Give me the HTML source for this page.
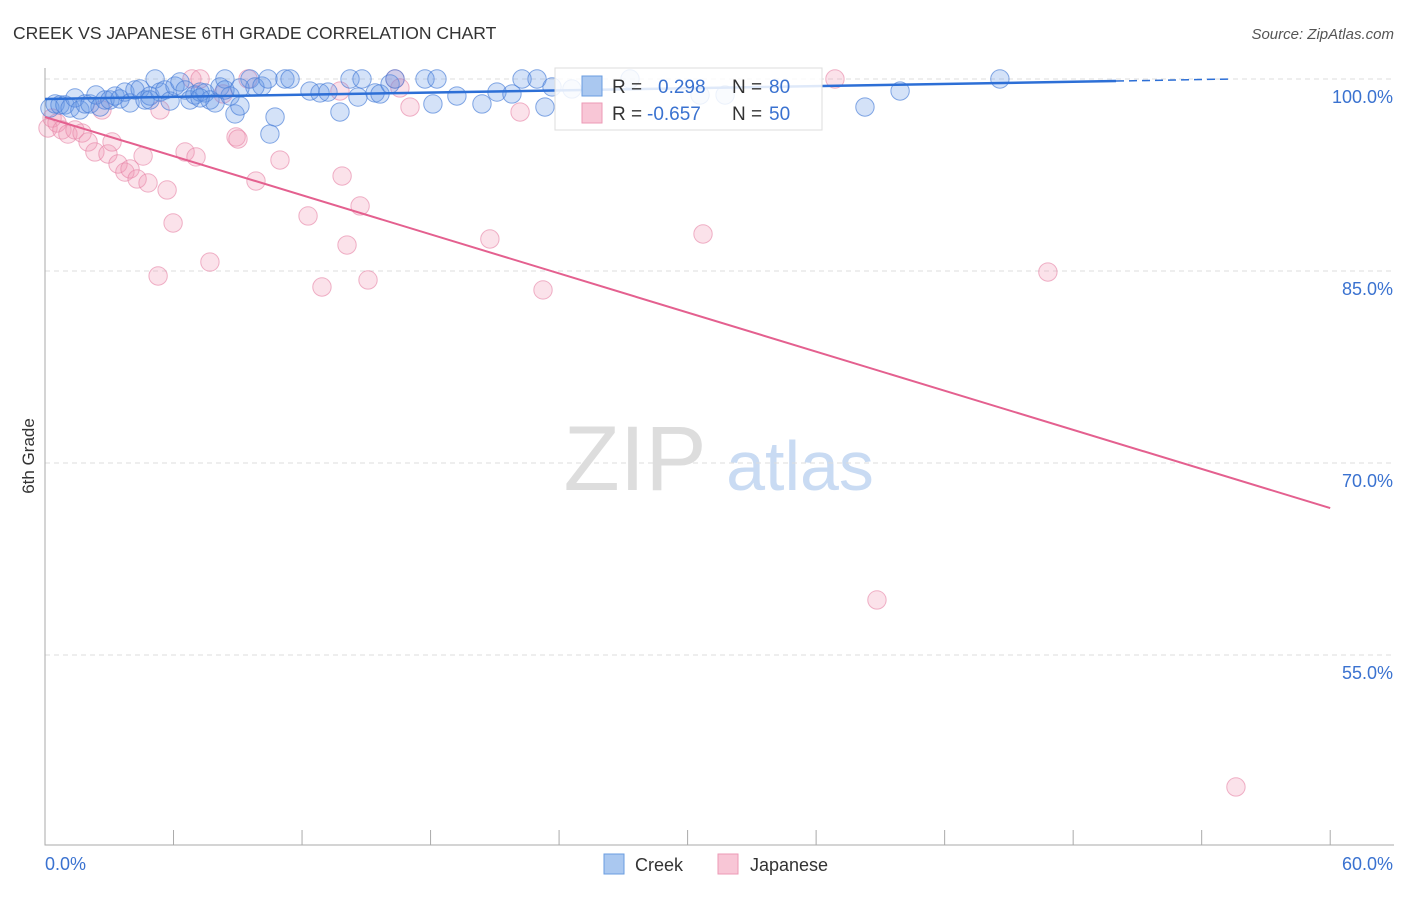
<!DOCTYPE html>
<html><head><meta charset="utf-8"><style>
body{margin:0;background:#fff;font-family:"Liberation Sans",sans-serif;}
svg text{font-family:"Liberation Sans",sans-serif;}
</style></head><body>
<svg id="chart" width="1406" height="892" xmlns="http://www.w3.org/2000/svg">
<text x="13" y="39" font-size="17.5" fill="#333">CREEK VS JAPANESE 6TH GRADE CORRELATION CHART</text>
<text x="1394" y="39" font-size="15" fill="#555" text-anchor="end" font-style="italic">Source: ZipAtlas.com</text>
<text x="34" y="456" font-size="17" fill="#333" transform="rotate(-90 34 456)" text-anchor="middle">6th Grade</text>
<g><text x="635" y="490" font-size="92" fill="#ddd" text-anchor="middle" font-family="Liberation Serif">ZIP</text><text x="800" y="490" font-size="70" fill="#c9dbf3" text-anchor="middle">atlas</text></g>
<g id="grid"></g><g id="marks"></g>
<g>
<rect x="555" y="68" width="267" height="62" fill="#fff" fill-opacity="0.85" stroke="#ddd"/>
<rect x="582" y="76" width="20" height="20" fill="#aac8f0" stroke="#6a9de0"/>
<rect x="582" y="103" width="20" height="20" fill="#f8c6d6" stroke="#ec9ab6"/>
<text x="612" y="93" font-size="19" fill="#333">R =</text><text x="658" y="93" font-size="19" fill="#3a72d0">0.298</text>
<text x="732" y="93" font-size="19" fill="#333">N =</text><text x="769" y="93" font-size="19" fill="#3a72d0">80</text>
<text x="612" y="120" font-size="19" fill="#333">R =</text><text x="647" y="120" font-size="19" fill="#3a72d0">-0.657</text>
<text x="732" y="120" font-size="19" fill="#333">N =</text><text x="769" y="120" font-size="19" fill="#3a72d0">50</text>
</g>
<g>
<rect x="604" y="854" width="20" height="20" fill="#aac8f0" stroke="#6a9de0"/><text x="635" y="871" font-size="18" fill="#333">Creek</text>
<rect x="718" y="854" width="20" height="20" fill="#f8c6d6" stroke="#ec9ab6"/><text x="750" y="871" font-size="18" fill="#333">Japanese</text>
</g>
</svg>
<script>
const xTicks=["0.0%","60.0%"];
const yTicks=[100,85,70,55];
const creekX=[0.23,0.47,0.70,0.93,1.17,1.40,1.63,1.87,2.10,2.38,2.57,2.80,3.03,3.27,3.50,3.73,3.97,4.20,4.44,4.67,4.90,5.14,5.37,5.60,5.84,6.07,6.30,6.54,6.77,7.00,7.24,7.47,7.70,7.94,8.17,8.40,8.64,8.87,9.10,9.57,9.80,10.13,10.41,10.74,10.50,11.20,11.44,12.37,12.84,13.21,13.77,14.24,14.61,14.80,15.41,15.64,16.11,16.34,17.74,18.11,18.30,19.23,20.40,21.10,21.80,22.27,22.97,23.34,23.67,24.60,27.31,30.58,31.75,38.28,39.92,44.58,8.40,4.90,9.10,7.24];
const creekY=[97.73,98.05,97.97,97.97,97.73,98.52,97.58,98.05,98.05,98.75,97.81,98.36,98.36,98.67,98.44,98.98,98.13,99.14,99.22,98.36,98.67,100,98.98,99.14,98.28,99.45,99.77,99.14,98.36,98.75,98.98,98.91,98.36,98.13,99.38,100,98.67,97.27,97.89,100,99.38,99.45,100,97.03,95.70,100,100,99.06,98.91,98.98,97.42,100,98.59,100,98.91,98.83,99.61,100,100,98.05,100,98.67,98.05,98.98,98.83,100,100,97.81,99.38,99.22,100,98.75,98.75,97.81,99.06,100,99.14,98.36,99.30,98.52];
const japX=[0.14,0.33,0.56,0.79,1.07,1.40,1.73,2.01,2.33,2.66,2.94,3.13,3.41,3.73,3.97,4.30,4.58,4.81,5.28,5.37,5.70,5.98,6.54,6.86,7.05,7.24,7.70,8.31,8.92,9.01,9.48,9.85,10.97,12.28,12.93,13.77,13.87,14.10,14.71,15.08,16.34,16.57,17.04,20.77,22.18,23.25,30.72,36.88,38.84,46.82,55.60];
const japY=[96.17,96.95,96.56,96.02,95.70,96.02,95.78,95.08,94.30,97.58,94.14,95.08,93.36,92.73,92.97,92.19,93.98,91.88,84.61,97.58,91.33,88.75,94.30,100,93.91,100,85.70,98.83,95.47,95.31,100,92.03,93.67,89.30,83.75,99.06,92.42,87.03,90.08,84.30,100,99.30,97.81,87.50,97.42,83.52,87.89,100,59.30,84.92,44.69];
const creekTrend=[98.44,99.84,100];const creekTrendX=[0,50,55.4];
const japTrend=[97.03,66.48];const japTrendX=[0,60];
const NS="http://www.w3.org/2000/svg";
const sx=v=>45+v*21.42, sy=v=>79+(100-v)*12.8;
const grid=document.getElementById('grid'), marks=document.getElementById('marks');
function mk(tag,at,parent){const e=document.createElementNS(NS,tag);for(const k in at)e.setAttribute(k,at[k]);parent.appendChild(e);return e;}
yTicks.forEach(t=>{
 const l=mk('line',{x1:45,x2:1394,y1:sy(t),y2:sy(t),stroke:'#ddd','stroke-dasharray':'5,4'},grid);
 
 
 const tx=mk('text',{x:1393,y:sy(t)+24,'font-size':18,fill:'#3a72d0','text-anchor':'end'},grid);tx.textContent=t.toFixed(1)+'%';
 
 
});
const ax=mk('path',{d:'M45 68V845H1394',stroke:'#aaa',fill:'none'},grid);


for(let i=0;i<=10;i++){const t=mk('line',{x1:sx(i*6),x2:sx(i*6),y1:830,y2:845,stroke:'#aaa'},grid);
 
 }
[[0,'start',45],[1,'end',1393]].forEach(([i,a,x])=>{const t=mk('text',{x:x,y:870,'font-size':18,fill:'#3a72d0','text-anchor':a},grid);t.textContent=xTicks[i];
 
 });
function dots(X,Y,fill,stroke,name){X.forEach((x,i)=>{const c=mk('circle',{cx:sx(x),cy:sy(Y[i]),r:9.2,fill:fill,stroke:stroke,'stroke-width':1},marks);
 
 });}
dots(japX,japY,'rgba(240,150,180,0.28)','rgba(230,130,165,0.6)','japanese-point');
dots(creekX,creekY,'rgba(100,150,230,0.28)','rgba(70,125,215,0.65)','creek-point');
const ct=mk('line',{x1:sx(creekTrendX[0]),y1:sy(creekTrend[0]),x2:sx(creekTrendX[1]),y2:sy(creekTrend[1]),stroke:'#2d6fd6','stroke-width':2.5},marks);


const cd=mk('line',{x1:sx(creekTrendX[1]),y1:sy(creekTrend[1]),x2:sx(creekTrendX[2]),y2:sy(creekTrend[2]),stroke:'#2d6fd6','stroke-width':1.5,'stroke-dasharray':'8,5'},marks);


const jt=mk('line',{x1:sx(japTrendX[0]),y1:sy(japTrend[0]),x2:sx(japTrendX[1]),y2:sy(japTrend[1]),stroke:'#e4608f','stroke-width':2},marks);


</script>
</body></html>
